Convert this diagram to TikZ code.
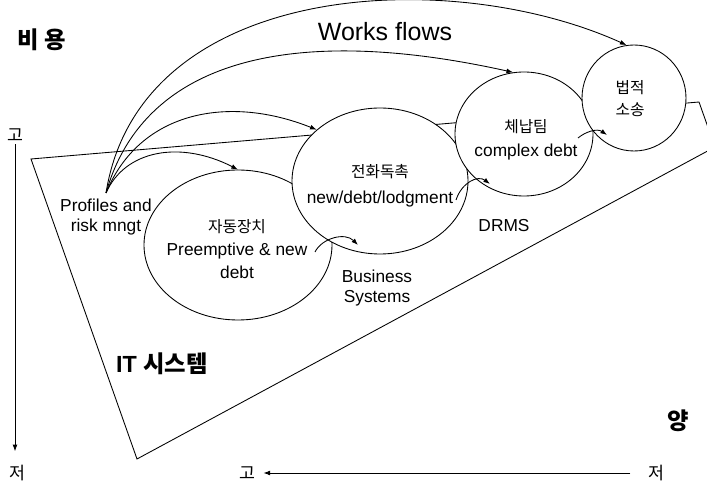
\documentclass[tikz,border=0pt]{standalone}
\usepackage{fontspec}
\setmainfont{Liberation Sans}
\newfontfamily\kr{Noto Sans CJK KR}
\usetikzlibrary{arrows.meta,shapes.geometric}
\begin{document}
\begin{tikzpicture}[x=0.75pt,y=-0.75pt,line width=0.65pt,
  circ/.style={draw, ellipse, fill=white, inner sep=0pt},
  txt/.style={align=center, inner sep=0pt, font=\fontsize{13}{17}\selectfont},
  big/.style={inner sep=0pt, font=\fontsize{17.5}{19}\selectfont\bfseries},
  ax/.style={inner sep=0pt, font=\fontsize{13}{15}\selectfont\kr},
  tip/.style={-{Latex[length=5pt,width=3.6pt]}}]
\useasboundingbox (0,0) rectangle (707,484);
\clip (0,0) rectangle (707,484);

% IT system region
\draw (31,159) -- (699,102) -- (715,147) -- (137,459) -- cycle;

% circles
\node[circ, minimum width=188*0.75pt, minimum height=150*0.75pt] (c1) at (238,245) {};
\node[circ, minimum width=176*0.75pt, minimum height=146*0.75pt] (c2) at (380,181) {};
\node[circ, minimum width=138*0.75pt, minimum height=124*0.75pt] (c3) at (524,134) {};
\node[circ, minimum width=104*0.75pt, minimum height=106*0.75pt] (c4) at (634,98) {};

% texts in circles
\node[txt] (t1) at (237,249) {{\kr\fontsize{11.8}{13}\selectfont 자동장치}\\Preemptive \& new\\debt};
\node[txt, font=\fontsize{13}{19.5}\selectfont] (t2) at (380,186) {{\kr\fontsize{11.8}{13}\selectfont 전화독촉}\\new/debt/lodgment};
\node[txt, font=\fontsize{13}{18}\selectfont] (t3) at (526,140) {{\kr\fontsize{11.8}{13}\selectfont 체납팀}\\complex debt};
\node[txt, font=\fontsize{11.8}{16.5}\selectfont\kr] (t4) at (630,99) {법적\\소송};

% other labels
\node[txt, font=\fontsize{13}{15}\selectfont] (prof) at (106,217) {Profiles and\\risk mngt};
\node[txt, font=\fontsize{13}{15}\selectfont] (bus) at (377,288) {Business\\Systems};
\node[txt] (drms) at (504,226) {DRMS};
\node[inner sep=0pt, font=\fontsize{18.75}{20}\selectfont] (works) at (385,32) {Works flows};
\node[big] (biyong) at (42,40) {\kr 비 용};
\node[big] (it) at (162,364) {IT {\kr 시스템}};
\node[big] (yang) at (678,421) {\kr 양};

% axes
\node[ax] (ygo) at (15,135) {고};
\node[ax] (yjeo) at (17,473) {저};
\node[ax] (xgo) at (247,473) {고};
\node[ax] (xjeo) at (656,473) {저};
\draw[tip, shorten <=2pt, shorten >=10pt] (ygo.south) -- (ygo.south |- yjeo.north);
\draw[tip, shorten <=13pt, shorten >=6pt] (xjeo.west) -- (xgo.east);

% work flow arrows
\coordinate (src) at (106,193);
\draw[tip] (src) .. controls (125,150) and (180,140) .. (c1.north);
\draw[tip] (src) .. controls (140,110) and (230,95) .. (c2.141);
\draw[tip] (src) .. controls (145,55) and (300,25) .. (c3.100);
\draw[tip] (src) .. controls (140,-20) and (450,-35) .. (c4.98);

% small arrows between stages
\coordinate (a1s) at (315,252);
\coordinate (a1e) at (358,245);
\coordinate (a2s) at (456,200);
\coordinate (a2e) at (490,184);
\coordinate (a3s) at (578,138);
\coordinate (a3e) at (607,135);
\draw[tip] (a1s) .. controls (322,238) and (345,232) .. (a1e);
\draw[tip] (a2s) .. controls (462,182) and (478,175) .. (a2e);
\draw[tip] (a3s) .. controls (585,132) and (597,128) .. (a3e);
\end{tikzpicture}
\end{document}
